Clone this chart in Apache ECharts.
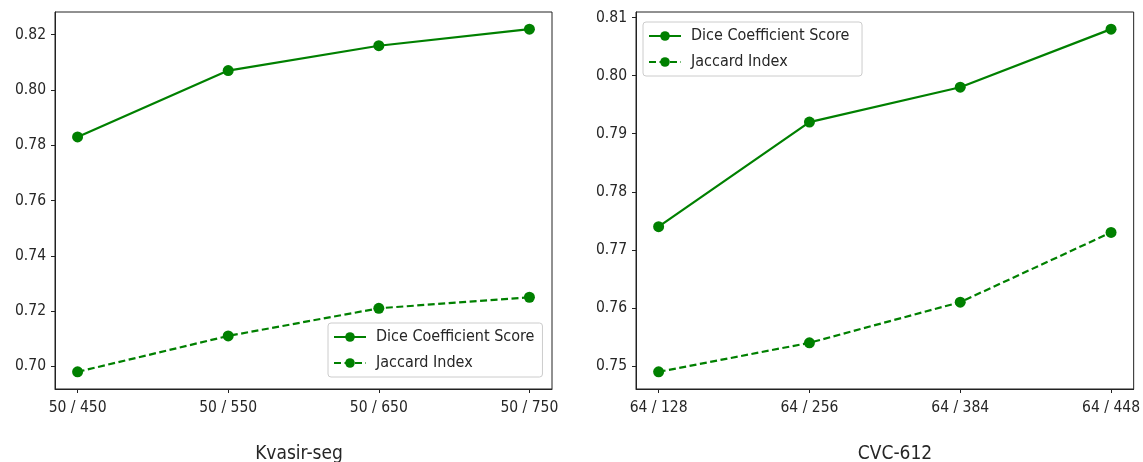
<!DOCTYPE html>
<html>
<head>
<meta charset="utf-8">
<script src="https://cdn.jsdelivr.net/npm/echarts@6/dist/echarts.min.js"></script>
<style>
html,body{margin:0;padding:0;background:#fff;}
#c{width:1143px;height:462px;}
</style>
</head>
<body>
<div id="c"></div>
<script>
const kvasirCategories = ['50 / 450', '50 / 550', '50 / 650', '50 / 750'];
const kvasirDice = [0.783, 0.807, 0.816, 0.822];
const kvasirJaccard = [0.698, 0.711, 0.721, 0.725];
const kvasirYTicks = [0.70, 0.72, 0.74, 0.76, 0.78, 0.80, 0.82];

const cvcCategories = ['64 / 128', '64 / 256', '64 / 384', '64 / 448'];
const cvcDice = [0.774, 0.792, 0.798, 0.808];
const cvcJaccard = [0.749, 0.754, 0.761, 0.773];
const cvcYTicks = [0.75, 0.76, 0.77, 0.78, 0.79, 0.80, 0.81];

const seriesNames = ['Dice Coefficient Score', 'Jaccard Index'];
const panelTitles = ['Kvasir-seg', 'CVC-612'];

const FONT = '"DejaVu Sans Condensed", "Liberation Sans Narrow", "DejaVu Sans"';
const GREEN = '#008000';
const TXT = '#262626';

function pairs(arr){ return arr.map((v,i)=>[i,v]); }
function yRange(a,b){
  const all = a.concat(b);
  const lo = Math.min(...all), hi = Math.max(...all);
  const m = (hi-lo)*0.05;
  return [lo-m, hi+m];
}

function xAxisFor(idx, cats){
  return {
    type:'value', gridIndex:idx, min:-0.15, max:3.15,
    axisLine:{show:true, onZero:false, lineStyle:{color:'#222', width:1}},
    axisTick:{show:true, length:4, lineStyle:{color:'#222'}, customValues:[0,1,2,3]},
    axisLabel:{show:true, margin:11, fontFamily:FONT, fontSize:15.5, color:TXT,
      customValues:[0,1,2,3], formatter:(v)=>cats[Math.round(v)]},
    splitLine:{show:false}
  };
}
function yAxisFor(idx, range, ticks, dec){
  return {
    type:'value', gridIndex:idx, min:range[0], max:range[1],
    axisLine:{show:true, onZero:false, lineStyle:{color:'#222', width:1}},
    axisTick:{show:true, length:4, lineStyle:{color:'#222'}, customValues:ticks},
    axisLabel:{show:true, margin:9, fontFamily:FONT, fontSize:15.5, color:TXT,
      customValues:ticks, formatter:(v)=>v.toFixed(dec)},
    splitLine:{show:false}
  };
}
function lineSeries(name, data, idx, dashed){
  return {
    type:'line', name:name, xAxisIndex:idx, yAxisIndex:idx,
    data:pairs(data), symbol:'circle', symbolSize:11, showSymbol:true,
    lineStyle:{color:GREEN, width:2.2, type: dashed ? [7,3.5] : 'solid'},
    itemStyle:{color:GREEN}, animation:false, z:3
  };
}
const legendBase = {
  orient:'vertical', itemWidth:32, itemHeight:12, itemGap:10,
  padding:[6,8,6,5], backgroundColor:'#fff', borderColor:'#cccccc', borderWidth:1,
  borderRadius:3, textStyle:{fontFamily:FONT, fontSize:16, color:TXT, padding:[0,0,0,5]},
  selectedMode:false
};

const r1 = yRange(kvasirDice, kvasirJaccard);
const r2 = yRange(cvcDice, cvcJaccard);

const chart = echarts.init(document.getElementById('c'));
chart.setOption({
  backgroundColor:'#fff',
  animation:false,
  title:[
    {text:panelTitles[0], left:294, top:440, textAlign:'center',
     textStyle:{fontFamily:FONT, fontSize:19, fontWeight:'normal', color:TXT}},
    {text:panelTitles[1], left:890, top:440, textAlign:'center',
     textStyle:{fontFamily:FONT, fontSize:19, fontWeight:'normal', color:TXT}}
  ],
  grid:[
    {left:55, top:12, width:497, height:377, show:true, borderColor:'#222', borderWidth:1, backgroundColor:'transparent'},
    {left:636, top:12, width:499, height:377, show:true, borderColor:'#222', borderWidth:1, backgroundColor:'transparent'}
  ],
  xAxis:[xAxisFor(0, kvasirCategories), xAxisFor(1, cvcCategories)],
  yAxis:[yAxisFor(0, r1, kvasirYTicks, 2), yAxisFor(1, r2, cvcYTicks, 2)],
  legend:[
    Object.assign({}, legendBase, {left:328, top:323, data:[seriesNames[0], seriesNames[1]]}),
    Object.assign({}, legendBase, {left:643, top:22, data:[seriesNames[0]+' ', seriesNames[1]+' ']})
  ],
  series:[
    lineSeries(seriesNames[0], kvasirDice, 0, false),
    lineSeries(seriesNames[1], kvasirJaccard, 0, true),
    lineSeries(seriesNames[0]+' ', cvcDice, 1, false),
    lineSeries(seriesNames[1]+' ', cvcJaccard, 1, true)
  ]
});
</script>
</body>
</html>
